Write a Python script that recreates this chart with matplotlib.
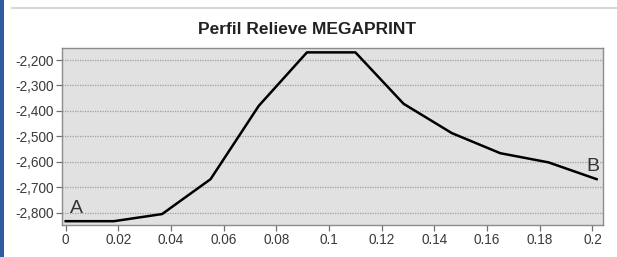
import matplotlib
matplotlib.use("Agg")
import matplotlib.pyplot as plt
from matplotlib.ticker import FuncFormatter
from matplotlib.lines import Line2D
from matplotlib.patches import Rectangle

plt.rcParams["font.family"] = ["Liberation Sans", "DejaVu Sans"]

# perfil: distancia vs cota
DIST = [0.0, 0.0183, 0.0366, 0.0550, 0.0733, 0.0916, 0.1100, 0.1283, 0.1466, 0.1650, 0.1833, 0.2016]
ELEV = [-2833, -2833, -2805, -2668, -2380, -2170, -2170, -2372, -2487, -2566, -2602, -2668]
X_TICKS = [0, 0.02, 0.04, 0.06, 0.08, 0.1, 0.12, 0.14, 0.16, 0.18, 0.2]
Y_TICKS = [-2800, -2700, -2600, -2500, -2400, -2300, -2200]
TITLE = "Perfil Relieve MEGAPRINT"

W, H = 617, 257
fig = plt.figure(figsize=(W / 100, H / 100), dpi=100)
fig.patch.set_facecolor("white")

# bordes de la ventana (franja azul y linea superior)
fig.add_artist(Rectangle((0, 0), 4 / W, 1, transform=fig.transFigure,
                         facecolor="#2f5c9e", edgecolor="none"))
fig.add_artist(Line2D([12 / W, 1], [1 - 8 / H, 1 - 8 / H], transform=fig.transFigure,
                      color="#d0d0d0", lw=1.2))

ax = fig.add_axes([62.3 / W, 1 - 225 / H, (602.7 - 62.3) / W, (225 - 48.3) / H])
ax.set_facecolor("#e1e1e1")
ax.plot(DIST, ELEV, color="black", lw=1.8, solid_joinstyle="round", zorder=3)

ax.set_xlim(-0.0013, 0.2039)
ax.set_ylim(-2848, -2154)
ax.set_xticks(X_TICKS)
ax.set_yticks(Y_TICKS)
ax.xaxis.set_major_formatter(FuncFormatter(lambda v, p: "0" if v == 0 else f"{v:g}"))
ax.yaxis.set_major_formatter(FuncFormatter(lambda v, p: f"{v:,.0f}"))
ax.grid(axis="y", color="#a0a0a0", linestyle=(0, (1, 1)), lw=0.9)
ax.set_axisbelow(True)

for s in ax.spines.values():
    s.set_color("#8c8c8c")
    s.set_linewidth(1.0)
ax.tick_params(axis="both", length=4, width=0.9, color="#707070",
               labelsize=9.8, labelcolor="#3a3a3a", pad=2)

ax.text(0.0016, -2801, "A", fontsize=14, color="#333333", ha="left", va="baseline")
ax.text(0.1976, -2636, "B", fontsize=14, color="#333333", ha="left", va="baseline")

fig.text(307 / W, 1 - 30 / H, TITLE, fontsize=12.5, fontweight="bold",
         color="#222222", ha="center", va="center")

fig.savefig("out.png", dpi=100)
